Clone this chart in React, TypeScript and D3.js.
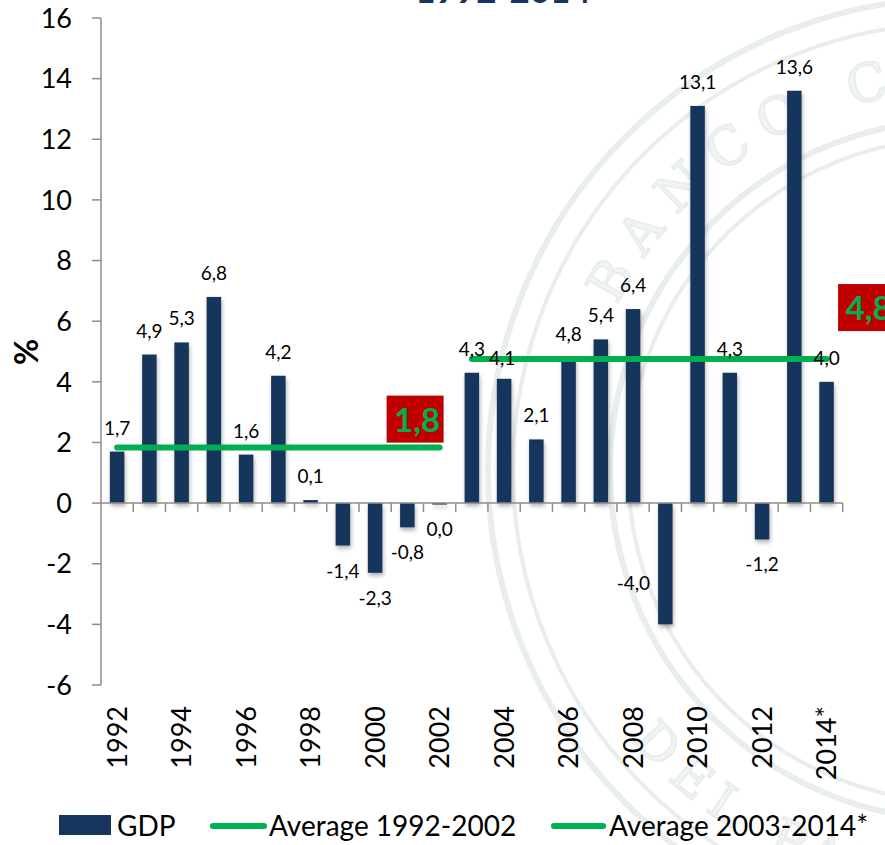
import React from 'react';
import * as d3 from 'd3';

const years = ['1992', '1993', '1994', '1995', '1996', '1997', '1998', '1999', '2000', '2001', '2002', '2003',
  '2004', '2005', '2006', '2007', '2008', '2009', '2010', '2011', '2012', '2013', '2014'];
const gdp = [1.7, 4.9, 5.3, 6.8, 1.6, 4.2, 0.1, -1.4, -2.3, -0.8, -0.04, 4.3,
  4.1, 2.1, 4.8, 5.4, 6.4, -4.0, 13.1, 4.3, -1.2, 13.6, 4.0];
const yTicks = [-6, -4, -2, 0, 2, 4, 6, 8, 10, 12, 14, 16];
const xTickYears = ['1992', '1994', '1996', '1998', '2000', '2002', '2004', '2006', '2008', '2010', '2012', '2014'];
const xTickLabels = ['1992', '1994', '1996', '1998', '2000', '2002', '2004', '2006', '2008', '2010', '2012', '2014*'];
const periodStart = ['1992', '2003'];
const periodEnd = ['2002', '2014'];
const periodAvg = [1.83, 4.75];
const legendLabels = ['GDP', 'Average 1992-2002', 'Average 2003-2014*'];

const W = 885;
const H = 845;
const NAVY = '#17365d';
const GREEN = '#00b050';
const RED = '#c00000';
const AXIS = '#8c8c8c';
const FONT = 'Lato, "Open Sans", sans-serif';

// hand placed label nudges (px), as in the source chart
const nudge: Record<string, { dx: number; dy: number; anchor?: string }> = {
  '2009': { dx: -8, dy: -66, anchor: 'end' },
  '2004': { dx: -2, dy: 3 },
};

const fmt = (v: number) => (Math.round(v * 10) / 10).toFixed(1).replace('.', ',');

const x = d3.scaleBand<string>().domain(years).range([101, 842.7]).paddingInner(0.55).paddingOuter(0.275);
const y = d3.scaleLinear().domain([-6, 16]).range([685, 18]);

// faint bank seal behind the plot
function Watermark() {
  const cx = 960, cy = 470;
  const arc = (r: number, a0: number, a1: number, sweep: number) => {
    const p = d3.path();
    const r0 = (a0 * Math.PI) / 180, r1 = (a1 * Math.PI) / 180;
    p.moveTo(cx + r * Math.cos(r0), cy + r * Math.sin(r0));
    return `${p.toString()} A ${r} ${r} 0 0 ${sweep} ${cx + r * Math.cos(r1)} ${cy + r * Math.sin(r1)}`;
  };
  const c = '#e8eded';
  return (
    <g>
      <defs>
        <path id="wmTop" d={arc(380, 180, 359.9, 1)} />
        <path id="wmBot" d={arc(425, 179.9, 0, 0)} />
      </defs>
      {[472, 447, 350, 332].map((r, i) => (
        <circle key={r} cx={cx} cy={cy} r={r} fill="none" stroke={c} strokeWidth={i % 2 === 0 ? 6 : 4} />
      ))}
      <text fontFamily="'DejaVu Serif', serif" fontSize={52} fill="#f1f4f4" stroke={c} strokeWidth={2} letterSpacing={16}>
        <textPath href="#wmTop" startOffset={170}>BANCO CENTRAL</textPath>
      </text>
      <text fontFamily="'DejaVu Serif', serif" fontSize={50} fill="#f1f4f4" stroke={c} strokeWidth={2} letterSpacing={12}>
        <textPath href="#wmBot" startOffset={292}>DEL PARAGUAY</textPath>
      </text>
    </g>
  );
}

export default function App() {
  const bw = x.bandwidth();
  const step = x.step();
  const cxOf = (yr: string) => (x(yr) as number) + bw / 2;
  const boundaries = years.map((yr) => cxOf(yr) - step / 2).concat([cxOf(years[years.length - 1]) + step / 2]);
  const y0 = y(0);

  return (
    <svg width={W} height={H} style={{ position: 'absolute', left: 0, top: 0, background: '#fff' }} fontFamily={FONT}>
      <defs>
        <filter id="barShadow" x="-30%" y="-10%" width="160%" height="130%">
          <feDropShadow dx={1} dy={3} stdDeviation={2} floodColor="#000" floodOpacity={0.3} />
        </filter>
      </defs>
      <rect width={W} height={H} fill="#fff" />
      <Watermark />

      {/* title, mostly cropped off the top */}
      <text x={503} y={3} textAnchor="middle" fontSize={35} fontWeight="bold" fill={NAVY}>1992-2014</text>

      {/* bars */}
      <g filter="url(#barShadow)">
        {years.map((yr, i) => {
          const v = gdp[i];
          return (
            <rect key={yr} x={x(yr)} y={Math.min(y(v), y0)} width={bw}
              height={Math.max(Math.abs(y(v) - y0), 1.5)} fill={NAVY} />
          );
        })}
      </g>

      {/* axes */}
      <g stroke={AXIS} strokeWidth={1.5} fill="none">
        <line x1={101} x2={101} y1={y(16)} y2={y(-6)} />
        {yTicks.map((t) => <line key={t} x1={92} x2={101} y1={y(t)} y2={y(t)} />)}
        <line x1={101} x2={boundaries[boundaries.length - 1]} y1={y0} y2={y0} />
        {boundaries.slice(1).map((b, i) => <line key={i} x1={b} x2={b} y1={y0} y2={y0 + 9} />)}
      </g>
      <g fontSize={27} fill="#000">
        {yTicks.map((t) => (
          <text key={t} x={72} y={y(t)} dy="0.36em" textAnchor="end">{t}</text>
        ))}
        {xTickYears.map((yr, i) => (
          <text key={yr} transform={`translate(${cxOf(yr)},706) rotate(-90)`} dy="0.36em" textAnchor="end">
            {xTickLabels[i]}
          </text>
        ))}
      </g>
      <text transform="translate(38,352) rotate(-90)" textAnchor="middle" fontSize={32} fontWeight="bold">%</text>

      {/* average lines */}
      {periodAvg.map((a, i) => (
        <line key={i} x1={cxOf(periodStart[i])} x2={cxOf(periodEnd[i])} y1={y(a)} y2={y(a)}
          stroke={GREEN} strokeWidth={6} strokeLinecap="round" />
      ))}

      {/* value labels */}
      <g fontSize={19} fill="#000">
        {years.map((yr, i) => {
          const v = gdp[i];
          const n = nudge[yr] || { dx: 0, dy: 0 };
          const base = v > 0 ? y(v) - 17 : y(v) + 32;
          return (
            <text key={yr} x={cxOf(yr) + (n.anchor === 'end' ? -bw / 2 : 0) + n.dx} y={base + n.dy}
              textAnchor={n.anchor || 'middle'}>{fmt(v)}</text>
          );
        })}
      </g>

      {/* average callouts */}
      {periodAvg.map((a, i) => {
        const bx = i === 0 ? cxOf(periodEnd[i]) - 53 : cxOf(periodEnd[i]) + 11.5;
        const by = i === 0 ? y(a) - 52 : y(a) - 75;
        return (
          <g key={i}>
            <rect x={bx} y={by} width={57} height={47} fill={RED} />
            <text x={bx + 30.5} y={by + 36} textAnchor="middle" fontSize={33} fontWeight="bold" fill={GREEN}>{fmt(a)}</text>
          </g>
        );
      })}

      {/* legend */}
      <g fontSize={28} fill="#000">
        <rect x={59} y={815} width={52} height={20} fill={NAVY} />
        <text x={117} y={836}>{legendLabels[0]}</text>
        <line x1={213} x2={264} y1={826} y2={826} stroke={GREEN} strokeWidth={6} strokeLinecap="round" />
        <text x={269} y={836}>{legendLabels[1]}</text>
        <line x1={554} x2={603} y1={826} y2={826} stroke={GREEN} strokeWidth={6} strokeLinecap="round" />
        <text x={609} y={836}>{legendLabels[2]}</text>
      </g>
    </svg>
  );
}
